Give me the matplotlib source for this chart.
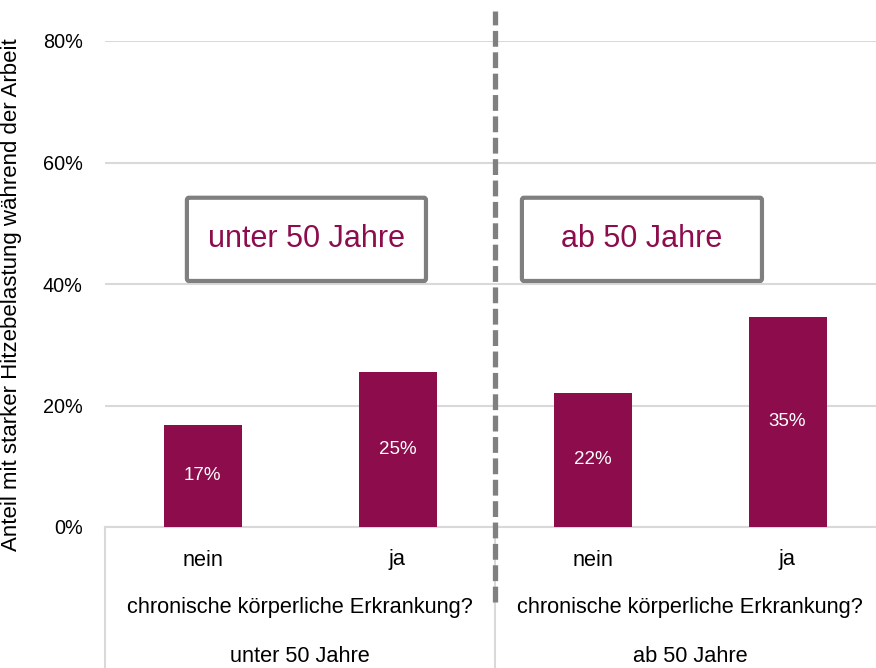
import matplotlib.pyplot as plt
from matplotlib.patches import FancyBboxPatch
from matplotlib.transforms import blended_transform_factory

plt.rcParams["font.family"] = ["Liberation Sans", "DejaVu Sans"]

# data
categories = ["nein", "ja", "nein", "ja"]
values = [16.8, 25.5, 22.1, 34.6]
value_labels = ["17%", "25%", "22%", "35%"]
group_names = ["unter 50 Jahre", "ab 50 Jahre"]
group_axis_title = "chronische körperliche Erkrankung?"
y_ticks = [0, 20, 40, 60, 80]
y_label = "Anteil mit starker Hitzebelastung während der Arbeit"

BAR_COLOR = "#8c0c4c"
GRID_COLOR = "#d9d9d9"
BOX_EDGE = "#7f7f7f"

fig = plt.figure(figsize=(8.76, 6.68), dpi=100)
ax = fig.add_axes([105 / 876, 1 - 527 / 668, 771 / 876, 486 / 668])

x = list(range(len(categories)))
ax.bar(x, values, width=0.4, color=BAR_COLOR, zorder=3)
for xi, v, lab in zip(x, values, value_labels):
    ax.text(xi, v / 2, lab, ha="center", va="center", color="white", fontsize=13.5, zorder=4)

ax.set_xlim(-0.5, -0.5 + 771 / 195)
ax.set_ylim(0, 80)
ax.set_yticks(y_ticks)
ax.set_yticklabels([f"{t}%" for t in y_ticks], fontsize=14.3)
ax.tick_params(axis="y", length=0, pad=16)
ax.set_xticks([])
ax.yaxis.grid(True, color=GRID_COLOR, linewidth=1.5, zorder=0)
for side in ["top", "right", "left"]:
    ax.spines[side].set_visible(False)
ax.spines["bottom"].set_color(GRID_COLOR)
ax.spines["bottom"].set_linewidth(1.5)
ax.set_ylabel(y_label, fontsize=16)
ax.yaxis.set_label_coords(-105 / 771 + 22 / 771, 0.5 - 11 / 486)

# category table below the axis
trans = blended_transform_factory(ax.transData, fig.transFigure)
for xi, cat in zip(x, categories):
    ax.text(xi, 1 - 560 / 668, cat, transform=trans, ha="center", va="center", fontsize=15.7)
for gi, name in enumerate(group_names):
    cx = 0.5 + 2 * gi
    ax.text(cx, 1 - 608 / 668, group_axis_title, transform=trans, ha="center", va="center", fontsize=15.7)
    ax.text(cx, 1 - 656 / 668, name, transform=trans, ha="center", va="center", fontsize=15.7)
for xl in [-0.5, 1.5]:
    ax.plot([xl, xl], [0, 1 - 527 / 668], transform=trans, color=GRID_COLOR,
            linewidth=1.5, clip_on=False, zorder=1)

# dashed separator
ax.plot([1.5, 1.5], [1 - 602 / 668, 1 - 11 / 668], transform=trans, color="#808080",
        linewidth=3.8, linestyle=(0, (3.0, 1.05)), clip_on=False, zorder=5)

# group boxes
boxes = [(-0.08, 1.146), (1.638, 2.869)]
for (x0, x1), name in zip(boxes, group_names):
    patch = FancyBboxPatch((x0, 40.5), x1 - x0, 54.2 - 40.5,
                           boxstyle="round,pad=0,rounding_size=0.01",
                           facecolor="white", edgecolor=BOX_EDGE, linewidth=3,
                           zorder=4, mutation_aspect=40)
    ax.add_patch(patch)
    ax.text((x0 + x1) / 2, (40.5 + 54.2) / 2, name, ha="center", va="center",
            color=BAR_COLOR, fontsize=22, zorder=5)

fig.savefig("out.png", dpi=100)
